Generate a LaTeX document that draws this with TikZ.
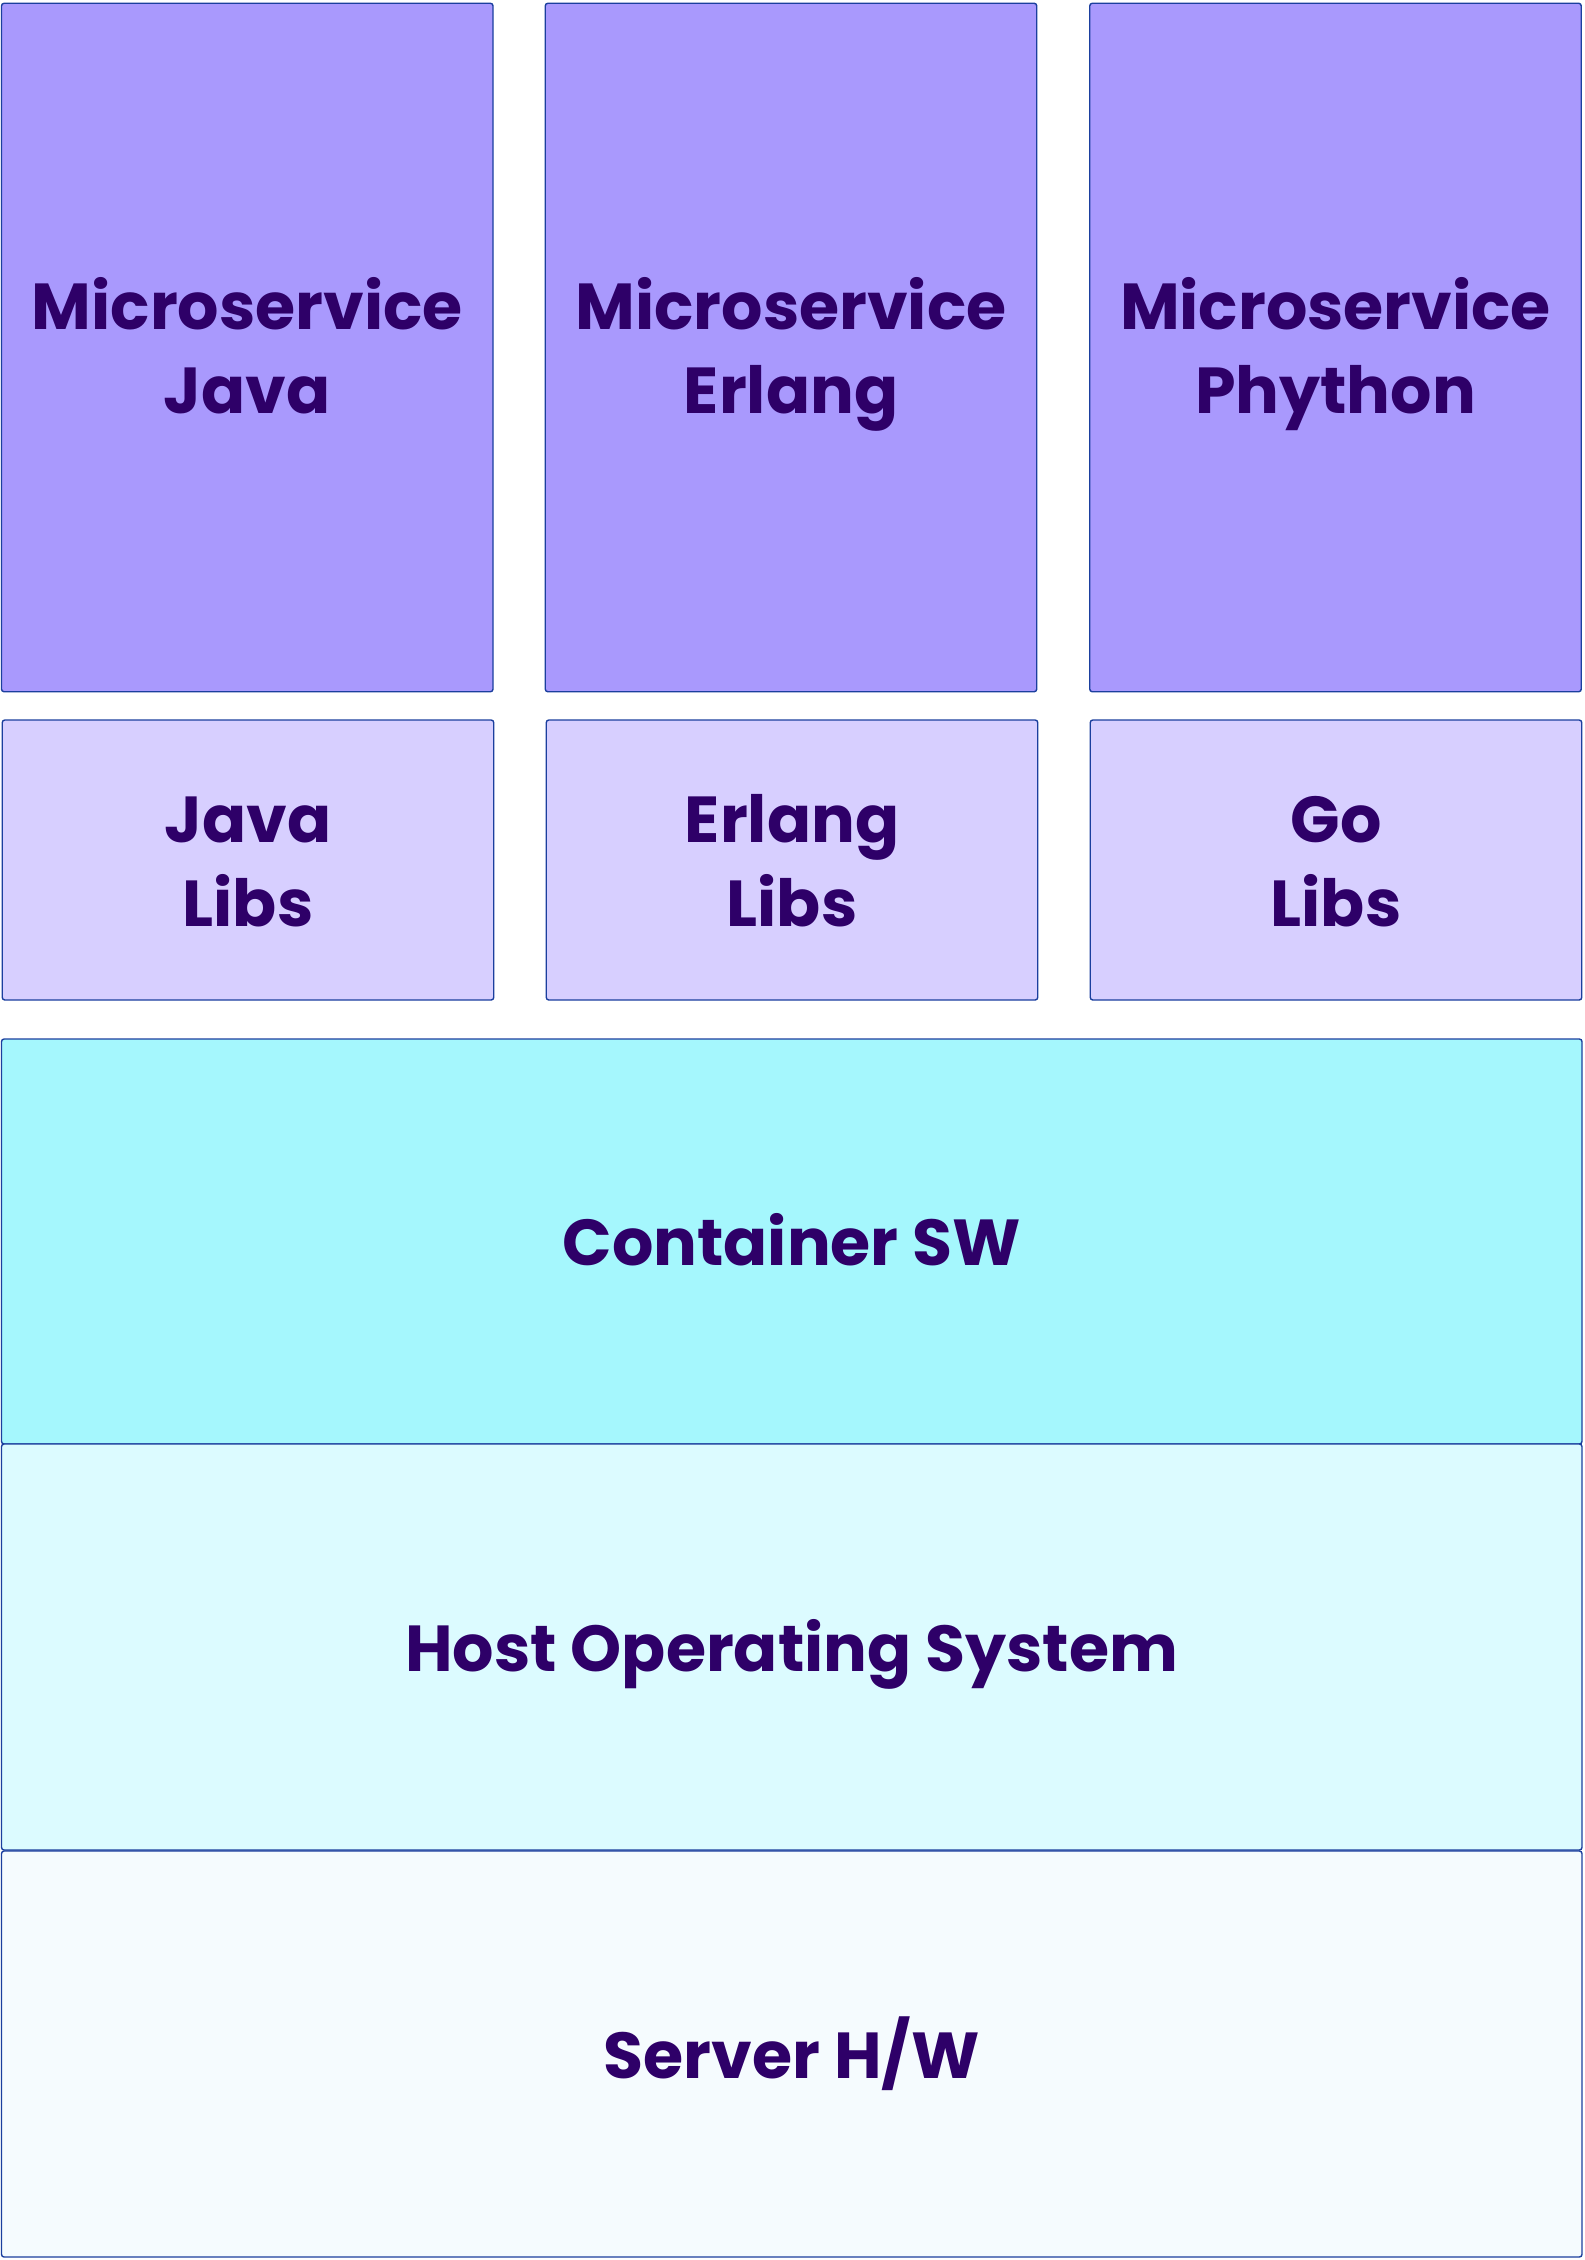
\documentclass[tikz,border=0pt]{standalone}
\usepackage{fontspec}
\setmainfont{Poppins}
\definecolor{LabelColor}{HTML}{2E0068}
\definecolor{LineColor}{HTML}{1B3F9E}
\definecolor{MicroFill}{HTML}{A999FD}
\definecolor{LibFill}{HTML}{D7CFFF}
\definecolor{ContFill}{HTML}{A5F7FD}
\definecolor{HostFill}{HTML}{DCFBFF}
\definecolor{HwFill}{HTML}{F5FBFE}
\newcommand{\BoxLabel}[1]{\rule{0pt}{1.05em}#1\rule[-0.3em]{0pt}{0pt}}

\begin{document}
\begin{tikzpicture}
\useasboundingbox (0, 0) rectangle (31.68, -45.2);

\coordinate (M1_1) at (4.945, -6.95);
\coordinate (M2_1) at (15.82, -6.95);
\coordinate (M3_1) at (26.71, -6.95);
\coordinate (L1_1) at (4.96, -17.2);
\coordinate (L2_1) at (15.84, -17.2);
\coordinate (L3_1) at (26.72, -17.2);
\coordinate (S1_1) at (15.835, -24.83);
\coordinate (S2_1) at (15.835, -32.94);
\coordinate (S3_1) at (15.835, -41.08);


\tikzset{BoxStyle/.style = {
 shape = rectangle,
 draw = LineColor,
 line width = 0.8pt,
 rounded corners = 1.5pt,
 text = LabelColor,
 align = center,
 inner sep = 0pt,
 font = \fontsize{37}{47.8}\selectfont\bfseries} }

\node[BoxStyle, fill=MicroFill, minimum width=9.83cm, minimum height=13.77cm] (M1) at (M1_1) {\BoxLabel{Microservice\\Java}};
\node[BoxStyle, fill=MicroFill, minimum width=9.83cm, minimum height=13.77cm] (M2) at (M2_1) {\BoxLabel{Microservice\\Erlang}};
\node[BoxStyle, fill=MicroFill, minimum width=9.83cm, minimum height=13.77cm] (M3) at (M3_1) {\BoxLabel{Microservice\\Phython}};

\node[BoxStyle, fill=LibFill, minimum width=9.83cm, minimum height=5.6cm] (L1) at (L1_1) {\BoxLabel{Java\\Libs}};
\node[BoxStyle, fill=LibFill, minimum width=9.83cm, minimum height=5.6cm] (L2) at (L2_1) {\BoxLabel{Erlang\\Libs}};
\node[BoxStyle, fill=LibFill, minimum width=9.83cm, minimum height=5.6cm] (L3) at (L3_1) {\BoxLabel{Go\\Libs}};

\node[BoxStyle, fill=ContFill, minimum width=31.61cm, minimum height=8.1cm] (S1) at (S1_1) {\BoxLabel{Container SW}};
\node[BoxStyle, fill=HostFill, minimum width=31.61cm, minimum height=8.12cm] (S2) at (S2_1) {\BoxLabel{Host Operating System}};
\node[BoxStyle, fill=HwFill, minimum width=31.61cm, minimum height=8.12cm] (S3) at (S3_1) {\BoxLabel{Server H/W}};

\end{tikzpicture}
\end{document}
